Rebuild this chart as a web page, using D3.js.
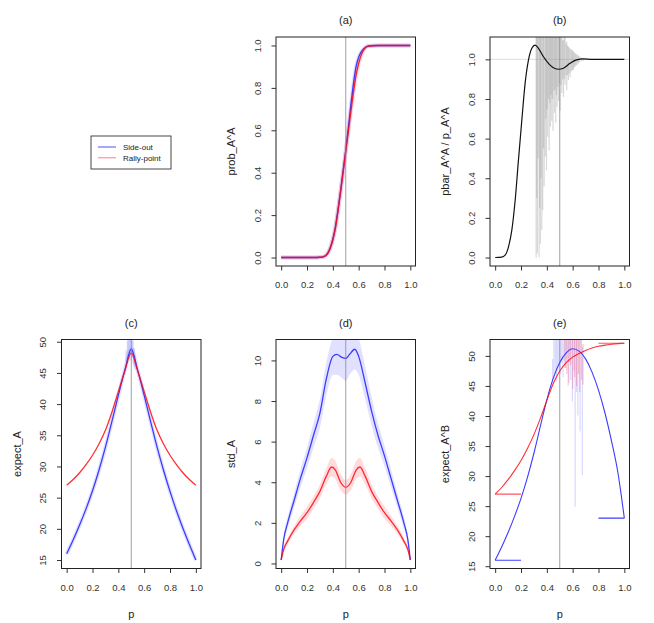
<!DOCTYPE html>
<html>
<head>
<meta charset="utf-8">
<script src="https://cdn.jsdelivr.net/npm/d3@7"></script>
<style>
  body { margin: 0; background: #fff; }
  svg { display: block; font-family: "Liberation Sans", Arial, sans-serif; }
</style>
</head>
<body>
<div id="chart"></div>
<script>

// ---- data ----
var tickP = [0, 0.2, 0.4, 0.6, 0.8, 1];
var seriesNames = ['Side-out', 'Rally-point'];

// (a) prob_A^A
var pA = [0, 0.25, 0.3, 0.33, 0.36, 0.38, 0.4, 0.42, 0.44, 0.46, 0.48, 0.5, 0.52, 0.54, 0.56, 0.58, 0.6, 0.62, 0.64, 0.67, 0.7, 0.75, 1];
var probA_side  = [0, 0, 0.001, 0.004, 0.02, 0.045, 0.085, 0.145, 0.225, 0.315, 0.41, 0.505, 0.61, 0.72, 0.82, 0.9, 0.945, 0.97, 0.985, 0.997, 0.999, 1, 1];
var probA_rally = [0, 0, 0.001, 0.004, 0.02, 0.045, 0.085, 0.14, 0.22, 0.31, 0.405, 0.5, 0.595, 0.69, 0.78, 0.86, 0.915, 0.955, 0.98, 0.996, 0.999, 1, 1];

// (b) pbar_A^A / p_A^A
var pB = [0, 0.05, 0.077, 0.103, 0.129, 0.155, 0.18, 0.206, 0.232, 0.258, 0.284, 0.309, 0.335, 0.374, 0.425, 0.49, 0.528, 0.58, 0.63, 0.683, 0.75, 1];
var ratioB = [0, 0.002, 0.012, 0.054, 0.138, 0.29, 0.49, 0.69, 0.88, 0.997, 1.056, 1.072, 1.056, 1.013, 0.971, 0.95, 0.955, 0.98, 0.997, 1.002, 1.0, 1.0];
// simulated ratios: [p, low, high]
var spikesB = [
  [0.317, 0.0, 1.2], [0.322, 0.3, 1.2], [0.327, 0.02, 1.2], [0.333, 0.5, 1.2], [0.34, 0.0, 1.2],
  [0.345, 0.25, 1.2], [0.35, 0.07, 1.2], [0.355, 0.4, 1.2], [0.361, 0.14, 1.2], [0.368, 0.24, 1.2],
  [0.374, 0.55, 1.2], [0.379, 0.36, 1.2], [0.387, 0.51, 1.2], [0.392, 0.7, 1.2], [0.397, 0.44, 1.2],
  [0.402, 0.75, 1.2], [0.407, 0.61, 1.2], [0.413, 0.8, 1.2], [0.418, 0.54, 1.2], [0.423, 0.78, 1.2],
  [0.428, 0.66, 1.2], [0.433, 0.82, 1.2], [0.438, 0.69, 1.2], [0.443, 0.8, 1.2], [0.448, 0.64, 1.2],
  [0.454, 0.84, 1.2], [0.459, 0.73, 1.2], [0.464, 0.85, 1.2], [0.469, 0.68, 1.2], [0.474, 0.82, 1.2],
  [0.479, 0.76, 1.2], [0.485, 0.86, 1.2], [0.49, 0.79, 1.2], [0.497, 0.88, 1.2], [0.503, 0.74, 1.2],
  [0.51, 0.87, 1.15], [0.516, 0.83, 1.2], [0.522, 0.9, 1.1], [0.529, 0.81, 1.097], [0.535, 0.9, 1.12],
  [0.541, 0.87, 1.2], [0.548, 0.92, 1.08], [0.554, 0.845, 1.09], [0.56, 0.92, 1.07], [0.567, 0.895, 1.065],
  [0.573, 0.93, 1.06], [0.58, 0.91, 1.055], [0.587, 0.94, 1.05], [0.593, 0.94, 1.05], [0.6, 0.95, 1.045],
  [0.606, 0.946, 1.04], [0.613, 0.96, 1.035], [0.619, 0.963, 1.03], [0.625, 0.97, 1.03], [0.632, 0.97, 1.025],
  [0.64, 0.98, 1.02], [0.645, 0.98, 1.02], [0.655, 0.985, 1.015], [0.67, 0.99, 1.01], [0.685, 0.993, 1.007]
];

// (c) expect_A
var pC = [0, 0.05, 0.1, 0.15, 0.2, 0.25, 0.3, 0.35, 0.4, 0.45, 0.5, 0.55, 0.6, 0.65, 0.7, 0.75, 0.8, 0.85, 0.9, 0.95, 1];
var expectC_side  = [16.0, 18.2, 20.6, 23.2, 26.1, 29.4, 33.1, 37.2, 41.4, 45.4, 48.8, 45.4, 41.4, 37.2, 33.1, 29.4, 26.0, 22.9, 20.1, 17.5, 15.0];
var expectC_rally = [27.0, 27.9, 29.0, 30.3, 31.8, 33.6, 35.8, 38.7, 42.0, 45.3, 48.2, 45.3, 42.0, 38.7, 35.8, 33.6, 31.8, 30.3, 29.0, 27.9, 27.0];
var spikesC_side = [
  [0.46, 46.8, 48.6], [0.47, 46.5, 50.2], [0.478, 47.6, 50.4], [0.485, 47.2, 50.4], [0.492, 47.9, 50.4],
  [0.5, 47.0, 50.4], [0.507, 47.6, 50.4], [0.515, 46.4, 50.1], [0.523, 46.0, 49.0], [0.53, 45.6, 47.8]
];

// (d) std_A
var pD_side = [0, 0.02, 0.05, 0.1, 0.15, 0.2, 0.25, 0.3, 0.35, 0.4, 0.43, 0.47, 0.5, 0.53, 0.57, 0.6, 0.65, 0.7, 0.75, 0.8, 0.85, 0.9, 0.95, 0.98, 1];
var stdD_side  = [0.17, 1.2, 2.0, 3.1, 4.2, 5.2, 6.3, 7.4, 9.1, 10.2, 10.3, 10.15, 10.1, 10.3, 10.55, 10.2, 8.9, 7.5, 6.3, 5.3, 4.2, 3.1, 2.0, 1.2, 0.17];
var noiseD_side = [0.05, 0.2, 0.3, 0.35, 0.45, 0.5, 0.6, 0.7, 0.8, 0.9, 1.0, 1.0, 1.1, 1.0, 1.0, 0.9, 0.8, 0.7, 0.6, 0.5, 0.45, 0.35, 0.3, 0.2, 0.05];
var pD_rally = [0, 0.02, 0.05, 0.1, 0.15, 0.2, 0.25, 0.3, 0.35, 0.39, 0.42, 0.46, 0.5, 0.54, 0.58, 0.61, 0.65, 0.7, 0.75, 0.8, 0.85, 0.9, 0.95, 0.98, 1];
var stdD_rally = [0.17, 0.7, 1.1, 1.65, 2.1, 2.5, 3.0, 3.55, 4.3, 4.75, 4.6, 4.0, 3.75, 4.0, 4.6, 4.75, 4.3, 3.55, 3.0, 2.5, 2.1, 1.65, 1.1, 0.7, 0.17];
var noiseD_rally = [0.05, 0.1, 0.15, 0.2, 0.25, 0.3, 0.3, 0.35, 0.4, 0.45, 0.45, 0.4, 0.35, 0.4, 0.45, 0.45, 0.4, 0.35, 0.3, 0.3, 0.25, 0.2, 0.15, 0.1, 0.05];

// (e) expect_A^B
var pE = [0, 0.05, 0.1, 0.15, 0.2, 0.25, 0.3, 0.35, 0.4, 0.45, 0.5, 0.55, 0.6, 0.65, 0.7, 0.75, 0.8, 0.85, 0.9, 0.95, 0.975, 1];
var expectE_side  = [16.0, 18.2, 20.6, 23.3, 26.3, 29.8, 33.8, 38.3, 42.7, 46.3, 48.9, 50.5, 51.2, 50.8, 49.5, 47.3, 44.3, 40.5, 35.9, 30.6, 27.0, 23.0];
var expectE_rally = [27.0, 28.1, 29.4, 30.9, 32.6, 34.6, 36.9, 39.6, 42.6, 45.4, 47.5, 48.9, 49.8, 50.4, 50.9, 51.3, 51.6, 51.8, 51.95, 52.05, 52.08, 52.1];
var stubsE_side  = [[0, 0.2, 16.0], [0.8, 1.0, 23.0]];
var stubsE_rally = [[0, 0.2, 27.0], [0.8, 1.0, 52.1]];
var spikesE_side = [
  [0.445, 45.5, 49.5], [0.455, 46.2, 53], [0.465, 47.0, 53], [0.475, 45.8, 53], [0.485, 47.5, 53],
  [0.495, 48.3, 53], [0.505, 47.0, 53], [0.515, 48.8, 53], [0.525, 46.5, 53], [0.535, 49.2, 53],
  [0.545, 48.0, 53], [0.555, 49.5, 53], [0.565, 45.0, 53], [0.575, 49.0, 53], [0.585, 46.0, 53],
  [0.598, 42.4, 53], [0.61, 47.5, 53], [0.619, 24.9, 53], [0.63, 44.0, 53], [0.64, 40.1, 53],
  [0.657, 37.4, 53], [0.675, 30.2, 51.5]
];
var spikesE_rally = [
  [0.54, 48.0, 53], [0.555, 47.0, 53], [0.57, 45.5, 53], [0.585, 48.5, 53], [0.6, 44.5, 53],
  [0.615, 46.5, 53], [0.63, 45.0, 53], [0.645, 47.0, 53], [0.655, 44.0, 53], [0.668, 46.0, 53], [0.68, 45.2, 52]
];

// ---- drawing ----
var width = 654, height = 623;
var boxW = 139.5, boxH = 229;
var blue = 'rgb(60,60,255)', red = 'rgba(255,10,20,0.85)';
var blueFuzz = 'rgba(90,90,255,0.18)', redFuzz = 'rgba(255,60,80,0.18)';

var svg = d3.select('#chart')
    .append('svg')
    .attr('width', width)
    .attr('height', height);

function zip(ps, vs) {
    return ps.map(function (p, i) { return [p, vs[i]]; });
}

function makePanel(id, left, top, yDomain, yTicks, yFormat, title, ylab, showP) {
    var x = d3.scaleLinear().domain([-0.04, 1.04]).range([left, left + boxW]);
    var y = d3.scaleLinear().domain(yDomain).range([top + boxH, top]);

    svg.append('clipPath').attr('id', 'clip-' + id)
        .append('rect')
        .attr('x', left).attr('y', top)
        .attr('width', boxW).attr('height', boxH);

    var plot = svg.append('g').attr('clip-path', 'url(#clip-' + id + ')');

    svg.append('g')
        .attr('transform', 'translate(0,' + (top + boxH) + ')')
        .call(d3.axisBottom(x).tickValues(tickP).tickSize(4.5).tickPadding(11).tickFormat(d3.format('.1f')))
        .call(function (g) {
            g.select('.domain').remove();
            g.selectAll('line').attr('stroke', '#333');
            g.selectAll('text').attr('fill', '#333').style('font-size', '9.5px');
        });

    svg.append('g')
        .attr('transform', 'translate(' + left + ',0)')
        .call(d3.axisLeft(y).tickValues(yTicks).tickSize(4.5).tickFormat(yFormat))
        .call(function (g) {
            g.select('.domain').remove();
            g.selectAll('line').attr('stroke', '#333');
            g.selectAll('text')
                .attr('x', 0).attr('y', 0).attr('dy', null)
                .attr('transform', 'translate(-15.5,0) rotate(-90)')
                .attr('text-anchor', 'middle')
                .attr('fill', '#333')
                .style('font-size', '9.5px');
        });

    svg.append('rect')
        .attr('x', left).attr('y', top)
        .attr('width', boxW).attr('height', boxH)
        .attr('fill', 'none')
        .attr('stroke', '#222')
        .attr('stroke-width', 1);

    svg.append('text')
        .attr('x', left + boxW / 2)
        .attr('y', top - 13)
        .attr('text-anchor', 'middle')
        .style('font-size', '11px')
        .attr('fill', '#222')
        .text(title);

    svg.append('text')
        .attr('transform', 'translate(' + (left - 41) + ',' + (top + boxH / 2) + ') rotate(-90)')
        .attr('text-anchor', 'middle')
        .style('font-size', '11px')
        .attr('fill', '#222')
        .text(ylab);

    if (showP) {
        svg.append('text')
            .attr('x', left + boxW / 2)
            .attr('y', top + boxH + 49)
            .attr('text-anchor', 'middle')
            .style('font-size', '11px')
            .attr('fill', '#222')
            .text('p');
    }

    return { plot: plot, x: x, y: y };
}

function drawLine(pn, ps, vs, color, w) {
    var line = d3.line()
        .x(function (d) { return pn.x(d[0]); })
        .y(function (d) { return pn.y(d[1]); })
        .curve(d3.curveMonotoneX);
    pn.plot.append('path')
        .datum(zip(ps, vs))
        .attr('d', line)
        .attr('fill', 'none')
        .attr('stroke', color)
        .attr('stroke-width', w)
        .attr('stroke-linejoin', 'round');
}

function drawBand(pn, ps, vs, half, color) {
    var area = d3.area()
        .x(function (d, i) { return pn.x(ps[i]); })
        .y0(function (d, i) { return pn.y(vs[i] - half[i]); })
        .y1(function (d, i) { return pn.y(vs[i] + half[i]); })
        .curve(d3.curveMonotoneX);
    pn.plot.append('path')
        .datum(ps)
        .attr('d', area)
        .attr('fill', color)
        .attr('stroke', 'none');
}

function drawSpikes(pn, spikes, color, w) {
    pn.plot.selectAll(null)
        .data(spikes)
        .enter()
        .append('line')
        .attr('x1', function (d) { return pn.x(d[0]); })
        .attr('x2', function (d) { return pn.x(d[0]); })
        .attr('y1', function (d) { return pn.y(d[1]); })
        .attr('y2', function (d) { return pn.y(d[2]); })
        .attr('stroke', color)
        .attr('stroke-width', w);
}

function drawStubs(pn, stubs, color) {
    pn.plot.selectAll(null)
        .data(stubs)
        .enter()
        .append('line')
        .attr('x1', function (d) { return pn.x(d[0]); })
        .attr('x2', function (d) { return pn.x(d[1]); })
        .attr('y1', function (d) { return pn.y(d[2]); })
        .attr('y2', function (d) { return pn.y(d[2]); })
        .attr('stroke', color)
        .attr('stroke-width', 1.1);
}

function vline(pn, p, color) {
    pn.plot.append('line')
        .attr('x1', pn.x(p)).attr('x2', pn.x(p))
        .attr('y1', pn.y.range()[0]).attr('y2', pn.y.range()[1])
        .attr('stroke', color)
        .attr('stroke-width', 0.8);
}

function hline(pn, v, color) {
    pn.plot.append('line')
        .attr('x1', pn.x.range()[0]).attr('x2', pn.x.range()[1])
        .attr('y1', pn.y(v)).attr('y2', pn.y(v))
        .attr('stroke', color)
        .attr('stroke-width', 0.8);
}

var fmt1 = d3.format('.1f');
var fmt0 = d3.format('d');

// (a)
var A = makePanel('a', 276, 37, [-0.04, 1.04], [0, 0.2, 0.4, 0.6, 0.8, 1], fmt1, '(a)', 'prob_A^A', false);
drawLine(A, pA, probA_side, blueFuzz, 4);
drawLine(A, pA, probA_rally, redFuzz, 4);
drawLine(A, pA, probA_side, blue, 1.4);
drawLine(A, pA, probA_rally, red, 1.4);
vline(A, 0.5, '#888');

// (b)
var B = makePanel('b', 490, 37, [-0.0428, 1.1128], [0, 0.2, 0.4, 0.6, 0.8, 1], fmt1, '(b)', 'pbar_A^A / p_A^A', false);
hline(B, 1, '#d4d4d4');
drawSpikes(B, spikesB, 'rgba(150,150,150,0.36)', 1.2);
vline(B, 0.5, '#888');
drawLine(B, pB, ratioB, '#111', 1.2);

// (c)
var C = makePanel('c', 61.5, 339.5, [13.64, 50.36], [15, 20, 25, 30, 35, 40, 45, 50], fmt0, '(c)', 'expect_A', true);
drawSpikes(C, spikesC_side, 'rgba(110,110,255,0.3)', 1.2);
drawLine(C, pC, expectC_side, blueFuzz, 4);
drawLine(C, pC, expectC_side, blue, 1.3);
drawLine(C, pC, expectC_rally, red, 1.3);
vline(C, 0.5, '#888');

// (d)
var D = makePanel('d', 276, 339.5, [-0.248, 11.03], [0, 2, 4, 6, 8, 10], fmt0, '(d)', 'std_A', true);
drawBand(D, pD_side, stdD_side, noiseD_side, 'rgba(120,120,255,0.22)');
drawBand(D, pD_rally, stdD_rally, noiseD_rally, 'rgba(255,110,120,0.25)');
drawLine(D, pD_side, stdD_side, blue, 1.3);
drawLine(D, pD_rally, stdD_rally, red, 1.3);
vline(D, 0.5, '#888');

// (e)
var E = makePanel('e', 490, 339.5, [14.62, 52.73], [15, 20, 25, 30, 35, 40, 45, 50], fmt0, '(e)', 'expect_A^B', true);
drawSpikes(E, spikesE_side, 'rgba(120,120,255,0.28)', 1.2);
drawSpikes(E, spikesE_rally, 'rgba(255,60,90,0.3)', 1.2);
vline(E, 0.5, '#888');
drawLine(E, pE, expectE_side, blue, 1.1);
drawLine(E, pE, expectE_rally, red, 1.1);
drawStubs(E, stubsE_side, blue);
drawStubs(E, stubsE_rally, 'rgba(255,40,60,0.8)');

// legend
var legend = svg.append('g');
legend.append('rect')
    .attr('x', 91).attr('y', 136)
    .attr('width', 80).attr('height', 33)
    .attr('fill', 'none')
    .attr('stroke', '#333')
    .attr('stroke-width', 0.9);
var legendColors = ['rgb(128,128,255)', 'rgb(255,160,172)'];
seriesNames.forEach(function (name, i) {
    legend.append('line')
        .attr('x1', 98).attr('x2', 116)
        .attr('y1', 147 + i * 10.7).attr('y2', 147 + i * 10.7)
        .attr('stroke', legendColors[i])
        .attr('stroke-width', 1.4);
    legend.append('text')
        .attr('x', 123)
        .attr('y', 150 + i * 10.7)
        .style('font-size', '8px')
        .attr('fill', '#222')
        .text(name);
});

</script>
</body>
</html>
